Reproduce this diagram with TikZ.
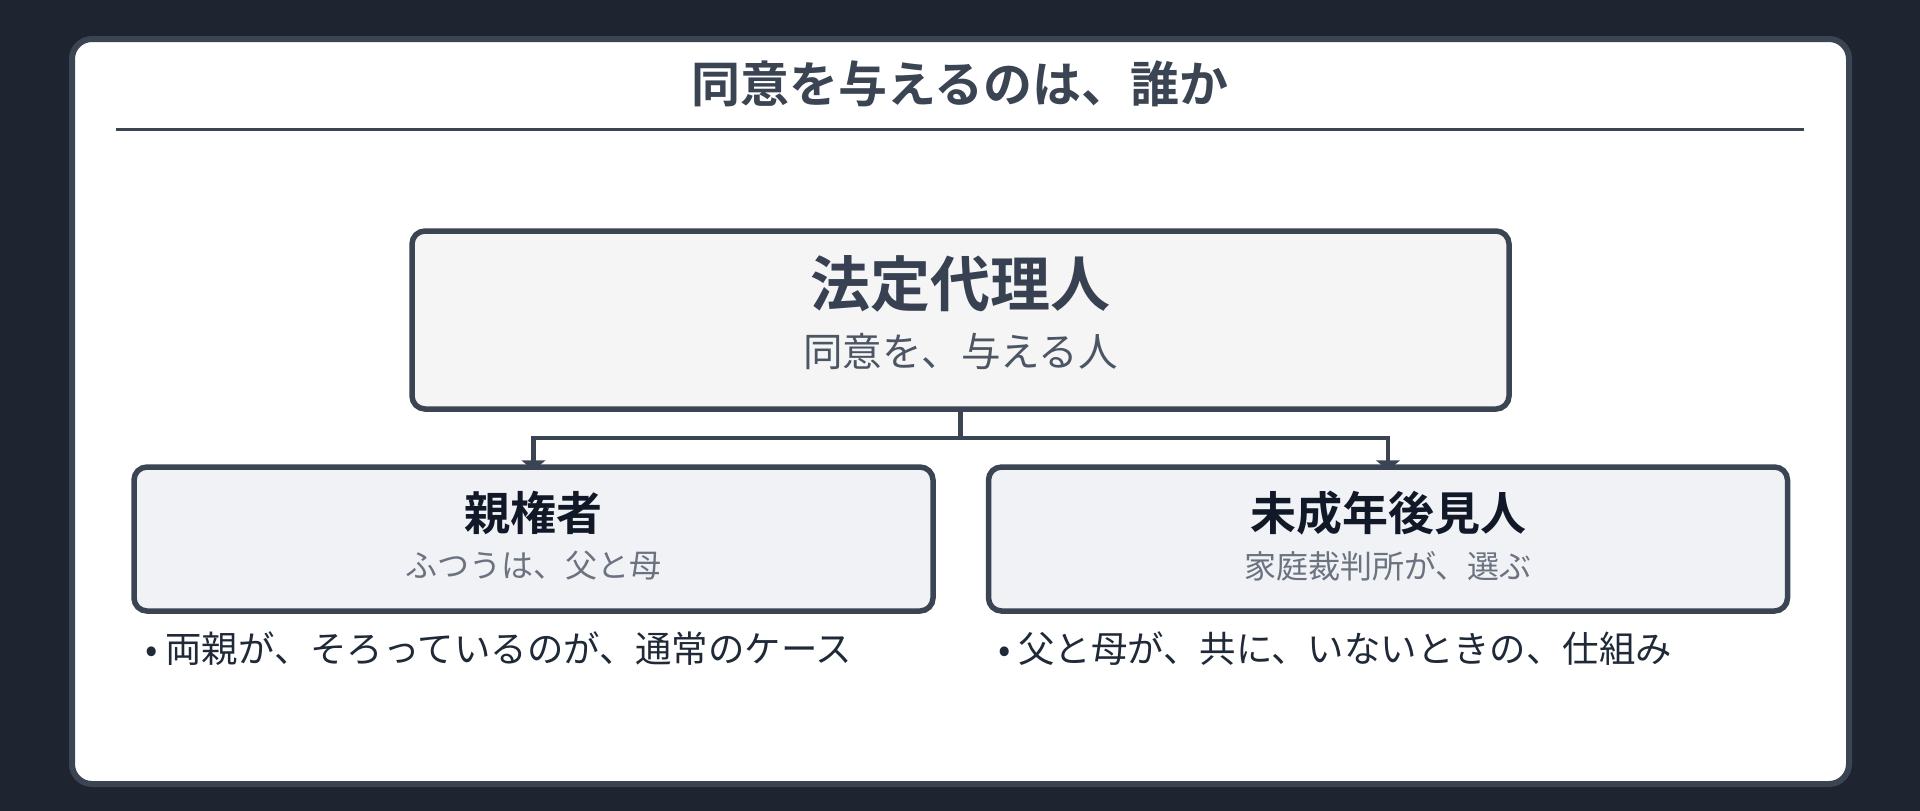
\documentclass[tikz,border=0pt]{standalone}
\usepackage{fontspec}
\setmainfont{Noto Sans CJK JP}[BoldFont={Noto Sans CJK JP Bold}]
\usetikzlibrary{positioning,arrows.meta,backgrounds}
\definecolor{pagebg}{HTML}{1E2530}
\definecolor{slate}{HTML}{3B4452}
\definecolor{inkdark}{HTML}{111827}
\definecolor{inkmid}{HTML}{374151}
\definecolor{inkgray}{HTML}{4B5563}
\definecolor{inklight}{HTML}{6B7280}
\definecolor{inkbody}{HTML}{1F2937}
\definecolor{topfill}{HTML}{F5F5F5}
\definecolor{childfill}{HTML}{F0F2F5}
\tikzset{
    every node/.style={inner sep=0pt},
    panel/.style={draw=slate, fill=white, line width=6pt, rounded corners=20pt},
    rule/.style={draw=slate, line width=3pt},
    heading/.style={text=slate, font=\fontsize{49}{58}\selectfont\bfseries},
    topbox/.style={draw=slate, fill=topfill, line width=5.5pt, rounded corners=13pt, minimum width=1097pt, minimum height=178pt},
    childbox/.style={draw=slate, fill=childfill, line width=5.5pt, rounded corners=13pt, minimum width=799pt, minimum height=144pt},
    toptitle/.style={text=inkmid, font=\fontsize{60}{72}\selectfont\bfseries},
    topsub/.style={text=inkgray, font=\fontsize{39.5}{47}\selectfont},
    childtitle/.style={text=inkdark, font=\fontsize{46}{55}\selectfont\bfseries},
    childsub/.style={text=inklight, font=\fontsize{32}{38}\selectfont},
    note/.style={text=inkbody, font=\fontsize{36.4}{43}\selectfont, anchor=west},
    arrow/.style={-{Triangle[width=24pt,length=10pt]}, draw=slate, line width=4.5pt, shorten >=-6pt},
}
\begin{document}
\begin{tikzpicture}[x=1pt, y=-1pt, node distance=52.5pt and 0pt]
\useasboundingbox (0,0) rectangle (1920,811);
\begin{scope}[on background layer]
\fill[pagebg] (0,0) rectangle (1920,811);
\draw[panel] (72,39) rectangle (1849,784);
\end{scope}

% heading
\node[heading] (heading) at (960,84) {同意を与えるのは、誰か};
\draw[rule] (116,129) -- (1804,129);

% top box
\node[topbox] (legal) at (960.5,320) {};
\node[toptitle] (legal-title) at ([yshift=36pt]legal.center) {法定代理人};
\node[topsub] (legal-sub) at ([yshift=-31pt]legal.center) {同意を、与える人};

% the two kinds
\node[childbox, below=of legal, xshift=-427pt] (parent) {};
\node[childbox, below=of legal, xshift=427.5pt] (guardian) {};

\foreach \who/\title/\sub in {parent/親権者/ふつうは、父と母, guardian/未成年後見人/家庭裁判所が、選ぶ}{
  \node[childtitle] (\who-title) at ([yshift=26pt]\who.center) {\title};
  \node[childsub] (\who-sub) at ([yshift=-27pt]\who.center) {\sub};
}

% notes under the boxes
\node[note] (parent-note) at (145,649) {•\hspace{8pt}両親が、そろっているのが、通常のケース};
\node[note] (guardian-note) at (998,649) {•\hspace{8pt}父と母が、共に、いないときの、仕組み};

\begin{scope}[on background layer]
\draw[arrow] (legal.south) -- ++(0,26) -| (parent.north);
\draw[arrow] (legal.south) -- ++(0,26) -| (guardian.north);
\end{scope}
\end{tikzpicture}
\end{document}
